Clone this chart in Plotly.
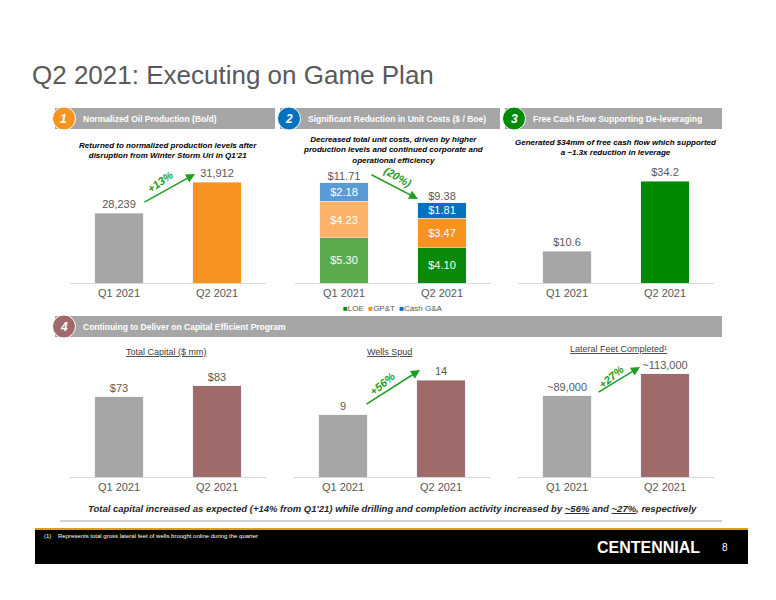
import plotly.graph_objects as go

W, H = 776, 600
quarters = ["Q1 2021", "Q2 2021"]
oil_prod = [28239, 31912]
loe = [5.30, 4.10]
gpt = [4.23, 3.47]
cash_ga = [2.18, 1.81]
unit_total = [11.71, 9.38]
fcf = [10.6, 34.2]
total_capital = [73, 83]
wells_spud = [9, 14]
lateral_feet = [89000, 113000]

GRAY = "#A6A6A6"
MAROON = "#9E6A6A"
FONT = "Liberation Sans"
OFF = 8  # page body margin

def px(x): return (x - OFF) / W
def py(y): return 1 - (y - OFF) / H

fig = go.Figure()

panels = [
    (1, (70, 266), (170, 283), [20000, 33330]),
    (2, (295, 491), (170, 283), [0, 13.2]),
    (3, (518, 714), (170, 283), [0, 37.9]),
    (4, (70, 266), (360, 477), [0, 106.7]),
    (5, (294, 490), (360, 477), [0, 16.9]),
    (6, (518, 714), (360, 477), [0, 128350]),
]

def ax(i): return ("x" if i == 1 else f"x{i}"), ("y" if i == 1 else f"y{i}")

tf = dict(family=FONT, size=11, color="#595959")
bw = 0.49

def bar(i, y, colors, text):
    xa, ya = ax(i)
    fig.add_trace(go.Bar(x=quarters, y=y, marker_color=colors, width=bw, text=text,
                         textposition="outside", textfont=tf, cliponaxis=False,
                         xaxis=xa, yaxis=ya, showlegend=False, hoverinfo="skip"))

bar(1, oil_prod, [GRAY, "#F7931E"], [f"{v:,}" for v in oil_prod])
xa, ya = ax(2)
for vals, cols in [(loe, ["#5BAA4E", "#0A8A0A"]), (gpt, ["#FBB36A", "#F7931E"]), (cash_ga, ["#5B9BD5", "#0070C0"])]:
    fig.add_trace(go.Bar(x=quarters, y=vals, marker_color=cols, width=bw,
                         text=[f"${v:.2f}" for v in vals], textposition="inside",
                         insidetextanchor="middle", constraintext="none",
                         textfont=dict(family=FONT, size=11, color="white"),
                         xaxis=xa, yaxis=ya, showlegend=False, hoverinfo="skip"))
fig.add_trace(go.Scatter(x=quarters, y=unit_total, mode="text", text=[f"${v:.2f}" for v in unit_total],
                         textposition="top center", textfont=tf, cliponaxis=False,
                         xaxis=xa, yaxis=ya, showlegend=False, hoverinfo="skip"))
bar(3, fcf, [GRAY, "#008A00"], [f"${v}" for v in fcf])
bar(4, total_capital, [GRAY, MAROON], [f"${v}" for v in total_capital])
bar(5, wells_spud, [GRAY, MAROON], [str(v) for v in wells_spud])
bar(6, lateral_feet, [GRAY, MAROON], [f"~{v:,}" for v in lateral_feet])

layout = dict(width=W, height=H, margin=dict(l=0, r=0, t=0, b=0), paper_bgcolor="white",
              plot_bgcolor="white", barmode="stack", font=dict(family=FONT))
for i, xr, yr, rng in panels:
    k = "" if i == 1 else str(i)
    layout["xaxis" + k] = dict(domain=[px(xr[0]), px(xr[1])], anchor="y" + k, showgrid=False,
                              showline=True, linecolor="#D9D9D9", linewidth=1, ticks="",
                              tickfont=tf, fixedrange=True)
    layout["yaxis" + k] = dict(domain=[py(yr[1]), py(yr[0])], anchor="x" + k, range=rng,
                              visible=False, fixedrange=True)
fig.update_layout(**layout)

shapes, ann = [], []

def A(x, y, text, size=10, color="#000", xanchor="center", **kw):
    ann.append(dict(x=px(x), y=py(y), xref="paper", yref="paper", text=text, showarrow=False,
                    xanchor=xanchor, yanchor="middle", font=dict(family=FONT, size=size, color=color), **kw))

A(30, 75, "Q2 2021: Executing on Game Plan", size=26, color="#595959", xanchor="left")

def header(x0, x1, y0, y1, num, ncolor, label):
    shapes.append(dict(type="rect", xref="paper", yref="paper", x0=px(x0), x1=px(x1), y0=py(y1), y1=py(y0),
                       fillcolor="#A6A6A6", line=dict(width=0), layer="below"))
    r = (y1 - y0) / 2 + 1
    cx = x0 + 9
    shapes.append(dict(type="circle", xref="paper", yref="paper", x0=px(cx - r), x1=px(cx + r),
                       y0=py((y0 + y1) / 2 + r), y1=py((y0 + y1) / 2 - r), fillcolor=ncolor,
                       line=dict(color="white", width=1)))
    A(cx, (y0 + y1) / 2, f"<b><i>{num}</i></b>", size=12, color="white")
    A(cx + 17, (y0 + y1) / 2, f"<b>{label}</b>", size=8.5, color="white", xanchor="left")

header(55, 275, 108, 129, 1, "#F7931E", "Normalized Oil Production (Bo/d)")
header(280, 500, 108, 129, 2, "#0070C0", "Significant Reduction in Unit Costs ($ / Boe)")
header(505, 722, 108, 129, 3, "#008A00", "Free Cash Flow Supporting De-leveraging")
header(55, 722, 316, 337, 4, MAROON, "Continuing to Deliver on Capital Efficient Program")

A(168, 150, "<b><i>Returned to normalized production levels after<br>disruption from Winter Storm Uri in Q1'21</i></b>", size=8)
A(393, 150, "<b><i>Decreased total unit costs, driven by higher<br>production levels and continued corporate and<br>operational efficiency</i></b>", size=8)
A(616, 147, "<b><i>Generated $34mm of free cash flow which supported<br>a ~1.3x reduction in leverage</i></b>", size=8)

A(393, 308, "<span style='color:#0A8A0A'>■</span>LOE  <span style='color:#F7931E'>■</span>GP&T  <span style='color:#0070C0'>■</span>Cash G&A", size=8, color="#595959")

A(166, 352, "<u>Total Capital ($ mm)</u>", size=9, color="#404040")
A(389, 352, "<u>Wells Spud</u>", size=9, color="#404040")
A(618, 349, "<u>Lateral Feet Completed¹</u>", size=9, color="#404040")

def arrow(x0, y0, x1, y1, label, lx, ly, ang):
    ann.append(dict(x=px(x1), y=py(y1), ax=x0 - x1, ay=y0 - y1, xref="paper", yref="paper",
                    axref="pixel", ayref="pixel", showarrow=True, arrowhead=2, arrowsize=1.2,
                    arrowwidth=1.5, arrowcolor="#1E9E1E", text=""))
    A(lx, ly, f"<b><i>{label}</i></b>", size=11, color="#1E9E1E", textangle=ang)

arrow(143, 203, 195, 174, "+13%", 160, 182, -35)
arrow(370, 174, 418, 199, "(20%)", 398, 177, 30)
arrow(365, 405, 420, 370, "+56%", 382, 384, -40)
arrow(597, 393, 640, 367, "+27%", 611, 377, -40)

A(392, 508, "<b><i>Total capital increased as expected (+14% from Q1'21) while drilling and completion activity increased by <u>~56%</u> and <u>~27%</u>, respectively</i></b>", size=9.5, color="#262626")
shapes.append(dict(type="line", xref="paper", yref="paper", x0=px(60), x1=px(722), y0=py(521), y1=py(521),
                   line=dict(color="#A6A6A6", width=1)))
shapes.append(dict(type="rect", xref="paper", yref="paper", x0=px(35), x1=px(748), y0=py(564), y1=py(529),
                   fillcolor="black", line=dict(width=0)))
shapes.append(dict(type="line", xref="paper", yref="paper", x0=px(35), x1=px(748), y0=py(529), y1=py(529),
                   line=dict(color="#D4A017", width=2)))
A(42, 536, "(1)    Represents total gross lateral feet of wells brought online during the quarter", size=6, color="white", xanchor="left")
A(648, 547, "<b>CENTENNIAL</b>", size=16, color="white")
A(725, 547, "8", size=10, color="white")

fig.update_layout(shapes=shapes, annotations=ann)
fig.write_html("out.html")
